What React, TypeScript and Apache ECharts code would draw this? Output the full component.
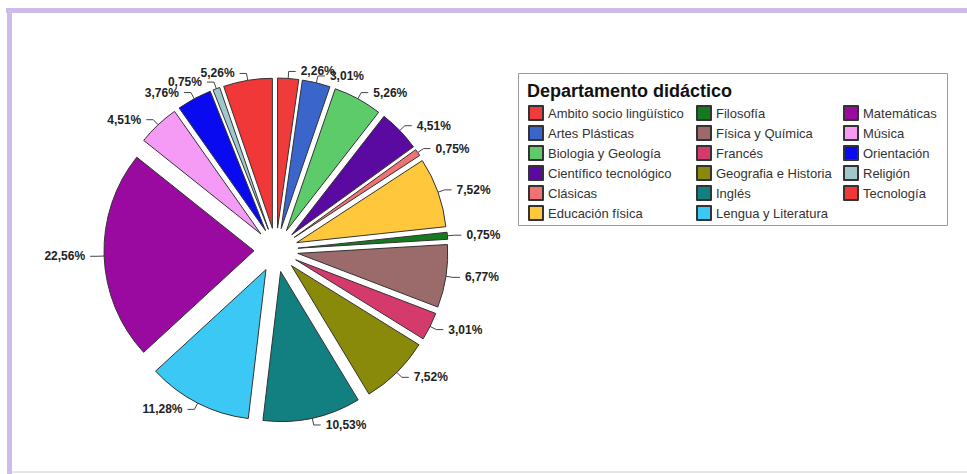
import React, { useEffect, useRef } from "react";
import * as echarts from "echarts";

const categories = [
  "Ambito socio lingüístico",
  "Artes Plásticas",
  "Biologia y Geología",
  "Científico tecnológico",
  "Clásicas",
  "Educación física",
  "Filosofía",
  "Física y Química",
  "Francés",
  "Geografia e Historia",
  "Inglés",
  "Lengua y Literatura",
  "Matemáticas",
  "Música",
  "Orientación",
  "Religión",
  "Tecnología",
];

const percentages = [
  2.26, 3.01, 5.26, 4.51, 0.75, 7.52, 0.75, 6.77, 3.01, 7.52, 10.53, 11.28,
  22.56, 4.51, 3.76, 0.75, 5.26,
];

const colors = [
  "#ef3b3b",
  "#3a66cc",
  "#5ecb6a",
  "#5a0aa0",
  "#f07272",
  "#ffc83c",
  "#157a1e",
  "#9b6a6a",
  "#d43a6c",
  "#8a8a0a",
  "#128080",
  "#3cc8f5",
  "#9a0aa0",
  "#f59af5",
  "#0a0af0",
  "#a0c8cc",
  "#f03838",
];

const legendTitle = "Departamento didáctico";
const legendColumns = [categories.slice(0, 6), categories.slice(6, 12), categories.slice(12)];

const FONT = "'Liberation Sans', Arial, sans-serif";

export default function App() {
  const ref = useRef<HTMLDivElement>(null);

  useEffect(() => {
    if (!ref.current) return;
    const chart = echarts.init(ref.current, undefined, { renderer: "svg" });

    const data = categories.map((name, i) => ({
      name,
      value: percentages[i],
      selected: true,
      itemStyle: { color: colors[i] },
    }));

    const legendLefts = [528, 696, 843];
    const legends = legendColumns.map((col, i) => ({
      data: col,
      orient: "vertical",
      left: legendLefts[i],
      top: 105,
      padding: 0,
      itemWidth: 14,
      itemHeight: 14,
      itemGap: 4,
      selectedMode: false,
      icon: "rect",
      textStyle: { fontFamily: FONT, fontSize: 13, color: "#333" },
    }));

    chart.setOption({
      animation: false,
      backgroundColor: "#ffffff",
      title: {
        text: legendTitle,
        left: 527,
        top: 82,
        padding: 0,
        textStyle: { fontFamily: FONT, fontSize: 18, fontWeight: "bold", color: "#111" },
      },
      legend: legends,
      graphic: [
        { type: "rect", shape: { x: 6, y: 8, width: 961, height: 5 }, style: { fill: "#cdbce8" }, silent: true },
        { type: "rect", shape: { x: 7, y: 8, width: 5, height: 466 }, style: { fill: "#cdbce8" }, silent: true },
        { type: "rect", shape: { x: 12, y: 471, width: 955, height: 2 }, style: { fill: "#e6e6e6" }, silent: true },
        {
          type: "rect",
          shape: { x: 518.5, y: 73.5, width: 429, height: 152 },
          style: { fill: "none", stroke: "#9a9a9a", lineWidth: 1 },
          silent: true,
        },
      ],
      series: [
        {
          type: "pie",
          center: [276, 250],
          radius: [0, 150],
          startAngle: 90,
          clockwise: true,
          selectedMode: "multiple",
          selectedOffset: 22,
          avoidLabelOverlap: false,
          labelLayout: { hideOverlap: false },
          data,
          itemStyle: { borderColor: "#333", borderWidth: 1 },
          select: { itemStyle: { borderColor: "#333", borderWidth: 1 } },
          emphasis: { disabled: true },
          label: {
            show: true,
            position: "outside",
            fontFamily: FONT,
            fontSize: 12,
            fontWeight: "bold",
            color: "#222",
            formatter: (p: any) => p.value.toFixed(2).replace(".", ",") + "%",
          },
          labelLine: {
            show: true,
            length: 7,
            length2: 7,
            lineStyle: { color: "#444", width: 1 },
          },
        },
      ],
    });

    return () => chart.dispose();
  }, []);

  return (
    <div
      ref={ref}
      style={{ position: "fixed", left: 0, top: 0, width: 967, height: 474 }}
    />
  );
}
